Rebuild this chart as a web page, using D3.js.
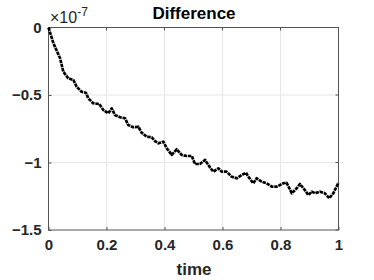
<!DOCTYPE html>
<html lang="en">
<head>
<meta charset="utf-8">
<title>Difference</title>
<script src="https://d3js.org/d3.v7.js"></script>
<style>
  body { margin: 0; background: #fff; }
  text { font-family: "Liberation Sans", Arial, sans-serif; font-weight: bold; }
</style>
</head>
<body>
<script>

// data (values in units of 1e-7)
var time = [0, 0.017, 0.040, 0.051, 0.068, 0.086, 0.097, 0.114, 0.129, 0.137, 0.154, 0.175,
  0.189, 0.206, 0.218, 0.229, 0.247, 0.264, 0.275, 0.292, 0.310, 0.321, 0.339, 0.356, 0.367,
  0.379, 0.396, 0.408, 0.425, 0.442, 0.459, 0.477, 0.494, 0.505, 0.522, 0.540, 0.551, 0.568,
  0.586, 0.597, 0.614, 0.632, 0.649, 0.666, 0.681, 0.689, 0.706, 0.718, 0.735, 0.752, 0.770,
  0.787, 0.810, 0.821, 0.839, 0.856, 0.867, 0.884, 0.896, 0.908, 0.919, 0.936, 0.953, 0.968,
  0.982, 1.0];
var diff = [0, -0.117, -0.228, -0.327, -0.376, -0.389, -0.439, -0.476, -0.483, -0.524, -0.561,
  -0.567, -0.611, -0.636, -0.599, -0.648, -0.665, -0.673, -0.722, -0.739, -0.735, -0.779,
  -0.809, -0.813, -0.841, -0.858, -0.846, -0.895, -0.944, -0.902, -0.944, -0.952, -0.952,
  -1.011, -1.011, -0.981, -1.019, -1.068, -1.043, -1.068, -1.068, -1.105, -1.117, -1.093,
  -1.076, -1.105, -1.154, -1.117, -1.142, -1.154, -1.179, -1.179, -1.154, -1.150, -1.228,
  -1.191, -1.159, -1.204, -1.241, -1.216, -1.228, -1.216, -1.228, -1.265, -1.228, -1.150];

var xTicks = [0, 0.2, 0.4, 0.6, 0.8, 1];
var yTicks = [0, -0.5, -1, -1.5];

var w = 374, h = 280;
var margin = {top: 27.5, right: 35.5, bottom: 50, left: 48.5};

var svg = d3.select("body").append("svg")
  .attr("width", w)
  .attr("height", h);

var x = d3.scaleLinear().domain([0, 1]).range([margin.left, w - margin.right]);
var y = d3.scaleLinear().domain([-1.5, 0]).range([h - margin.bottom, margin.top]);

// grid
svg.append("g")
  .selectAll("line.gx")
  .data(xTicks.slice(1, -1))
  .enter().append("line")
  .attr("x1", d => x(d)).attr("x2", d => x(d))
  .attr("y1", y(0)).attr("y2", y(-1.5))
  .attr("stroke", "#e6e6e6");

svg.append("g")
  .selectAll("line.gy")
  .data(yTicks.slice(1, -1))
  .enter().append("line")
  .attr("x1", x(0)).attr("x2", x(1))
  .attr("y1", d => y(d)).attr("y2", d => y(d))
  .attr("stroke", "#e6e6e6");

// axes
var xAxis = d3.axisBottom(x).tickValues(xTicks).tickSize(-3).tickPadding(9)
  .tickFormat(d => d3.format("")(d));
var yAxis = d3.axisLeft(y).tickValues(yTicks).tickSize(-3).tickPadding(7)
  .tickFormat(d => d3.format("")(d));

var gx = svg.append("g")
  .attr("transform", `translate(0, ${y(-1.5)})`)
  .call(xAxis);
var gy = svg.append("g")
  .attr("transform", `translate(${x(0)}, 0)`)
  .call(yAxis);

[gx, gy].forEach(function(g) {
  g.select(".domain").remove();
  g.selectAll(".tick line").attr("stroke", "#555");
  g.selectAll("text").attr("fill", "#262626").style("font-size", "15px");
});

// box
svg.append("rect")
  .attr("x", x(0)).attr("y", y(0))
  .attr("width", x(1) - x(0)).attr("height", y(-1.5) - y(0))
  .attr("fill", "none")
  .attr("stroke", "#555");

// top / right inner ticks
svg.append("g").selectAll("line")
  .data(xTicks)
  .enter().append("line")
  .attr("x1", d => x(d)).attr("x2", d => x(d))
  .attr("y1", y(0)).attr("y2", y(0) + 3)
  .attr("stroke", "#555");
svg.append("g").selectAll("line")
  .data(yTicks)
  .enter().append("line")
  .attr("x1", x(1)).attr("x2", x(1) - 3)
  .attr("y1", d => y(d)).attr("y2", d => y(d))
  .attr("stroke", "#555");

// curve
var line = d3.line()
  .x((d, i) => x(time[i]))
  .y(d => y(d));

svg.append("path")
  .datum(diff)
  .attr("d", line)
  .attr("fill", "none")
  .attr("stroke", "#000")
  .attr("stroke-width", 2.7)
  .attr("stroke-dasharray", "3.5,0.8")
  .attr("stroke-linejoin", "round");

// title and labels
svg.append("text")
  .attr("x", 194).attr("y", 19)
  .attr("text-anchor", "middle")
  .style("font-size", "17px")
  .attr("fill", "#000")
  .text("Difference");

svg.append("text")
  .attr("x", 194).attr("y", 275)
  .attr("text-anchor", "middle")
  .style("font-size", "17px")
  .attr("fill", "#262626")
  .text("time");

var exp = svg.append("text")
  .attr("x", 50).attr("y", 23)
  .style("font-size", "16px")
  .style("font-weight", "normal")
  .attr("fill", "#262626");
exp.append("tspan").text("\u00d710");
exp.append("tspan").attr("dy", -7).style("font-size", "12px").text("-7");

</script>
</body>
</html>
